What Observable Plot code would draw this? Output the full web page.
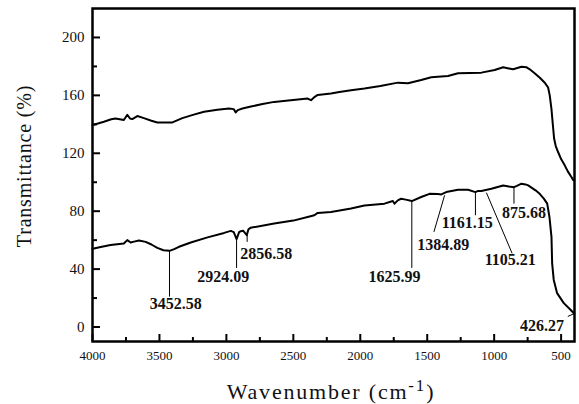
<!DOCTYPE html>
<html><head><meta charset="utf-8">
<script src="https://cdn.jsdelivr.net/npm/d3@7"></script>
<script src="https://cdn.jsdelivr.net/npm/@observablehq/plot@0.6"></script>
<style>body{margin:0;background:#fff} svg{display:block}</style>
</head><body><div id="chart"></div>
<script>
// Upper spectrum
const upperWn = [4000,3990,3915,3860,3828,3766,3740,3720,3703,3665,3616,3560,3516,3403,3329,3250,3167,3067,2980,2945,2930,2915,2880,2817,2730,2643,2520,2393,2368,2340,2318,2219,2156,2069,1969,1850,1719,1644,1545,1470,1345,1270,1180,1096,996,933,890,858,796,760,734,700,659,620,597,585,572,560,552,540,522,500,472,450,422,410,402];
const upperT = [139.5,139.7,141.8,143.5,144,143,146.6,144,143.6,145.7,144.3,142.5,141.3,141.3,144.3,146.5,148.7,150,150.9,150.5,148.2,149.8,150.9,152.3,154,155.5,156.7,157.8,156.7,159,160.3,161.3,162.4,163.5,164.7,166.5,168.8,168.4,170.6,172.5,173.4,175.3,175.5,175.7,177.5,179.4,178.6,178,179.8,179.5,178,175.5,172.2,168.5,165.4,160,150.5,138,130,125,120.7,116,111.5,107.5,103.5,101.5,101.2];

// Lower spectrum
const lowerWn = [4000,3990,3930,3865,3766,3740,3715,3690,3653,3603,3560,3516,3470,3425,3390,3354,3266,3141,3017,2967,2945,2924,2905,2892,2875,2848,2835,2820,2643,2500,2393,2343,2318,2219,2069,1969,1819,1757,1744,1720,1695,1660,1615,1545,1483,1420,1395,1358,1270,1195,1140,1120,1096,1021,933,890,852,830,796,766,746,691,660,629,604,587,572,567,555,530,480,430,402];
const lowerT = [54,54.3,55.5,56.6,57.7,60,58.4,59,59.8,58.8,57,54.7,53,52.6,53.8,55.4,58.4,61.9,65,66.4,65.5,60.7,65.5,66.2,66.5,63.4,67.5,68.5,71.5,73.5,76,77.2,78.8,79.5,81.8,84,85.2,87,85.2,87.5,88.6,88,87,89.8,92,91.8,91.6,93.2,94.8,94.8,93.2,94,93.9,95.5,97.8,97,96.6,97.5,99,98.5,97.8,94.4,92,88.7,85.2,76,62.3,44,32.5,23.4,16.5,11.9,9.3];

// Peak annotations (in wavenumber / transmittance units)
const peakLabels = ["3452.58","2924.09","2856.58","1625.99","1384.89","1161.15","1105.21","875.68","426.27"];
const peakLineWn1 = [3425,2924,2845,1615,1370,1140,1058,852,402];
const peakLineT1  = [52.6,60.5,63.8,87,91,93.5,92.8,96.6,9.3];
const peakLineWn2 = [3425,2924,2845,1615,1450,1140,866,852,450];
const peakLineT2  = [21,40.8,58.8,40.8,65.7,77.2,50.9,85.2,7.3];
const peakLabelWn = [3379,3023,2703,1745,1380,1201,880,778,643];
const peakLabelT  = [16,34.8,50.4,34.8,56.6,71.9,46.7,78.8,0.9];

// Axis ticks
const xMajor = [4000,3500,3000,2500,2000,1500,1000,500];
const xMinor = [3750,3250,2750,2250,1750,1250,750];
const yMajor = [0,40,80,120,160,200];
const yMinor = [20,60,100,140,180];

const W = 579, H = 404, mL = 92, mR = 5, mT = 8, mB = 63;
const plotW = W - mL - mR, plotH = H - mT - mB;

const upper = upperWn.map((w,i)=>({wn:w, t:upperT[i]}));
const lower = lowerWn.map((w,i)=>({wn:w, t:lowerT[i]}));
const peaks = peakLabels.map((l,i)=>({label:l, x1:peakLineWn1[i], y1:peakLineT1[i], x2:peakLineWn2[i], y2:peakLineT2[i], lx:peakLabelWn[i], ly:peakLabelT[i]}));

const font = "'Liberation Serif', 'Times New Roman', serif";

const chart = Plot.plot({
  width: W, height: H,
  marginLeft: mL, marginRight: mR, marginTop: mT, marginBottom: mB,
  style: {fontFamily: font, color: "#111", background: "#fff"},
  x: {domain: [4000, 400]},
  y: {domain: [-10, 220]},
  marks: [
    Plot.axisX({ticks: xMajor, tickSize: 0, tickPadding: 9, fontSize: 13, label: null, tickFormat: d => String(d), style: {letterSpacing: "1.5px"}}),
    Plot.axisY({ticks: yMajor, tickSize: 0, tickPadding: 8, fontSize: 15, label: null, tickFormat: d => String(d)}),
    Plot.ruleX(xMajor, {x: d=>d, stroke: "#000", strokeWidth: 2, insetTop: plotH - 7}),
    Plot.ruleX(xMinor, {x: d=>d, stroke: "#000", strokeWidth: 2, insetTop: plotH - 4}),
    Plot.ruleY(yMajor, {y: d=>d, stroke: "#000", strokeWidth: 2, insetRight: plotW - 8}),
    Plot.ruleY(yMinor, {y: d=>d, stroke: "#000", strokeWidth: 2, insetRight: plotW - 5}),
    Plot.line(upper, {x: "wn", y: "t", stroke: "#000", strokeWidth: 2}),
    Plot.line(lower, {x: "wn", y: "t", stroke: "#000", strokeWidth: 2}),
    Plot.link(peaks, {x1: "x1", y1: "y1", x2: "x2", y2: "y2", stroke: "#000", strokeWidth: 1}),
    Plot.text(peaks, {x: "lx", y: "ly", text: "label", fontSize: 16, fontWeight: "bold", fill: "#111"}),
    Plot.frame({stroke: "#000", strokeWidth: 2.5})
  ]
});
document.getElementById("chart").append(chart);

const svg = d3.select(chart);
svg.append("text")
  .attr("transform", "translate(26,166) rotate(-90)")
  .attr("text-anchor", "middle")
  .attr("dominant-baseline", "middle")
  .style("font-family", font).style("font-size", "20px").style("letter-spacing", "0.8px")
  .attr("fill", "#111")
  .text("Transmittance (%)");
const xt = svg.append("text")
  .attr("x", 331).attr("y", 399)
  .attr("text-anchor", "middle")
  .style("font-family", font).style("font-size", "22px").style("letter-spacing", "1.8px")
  .attr("fill", "#111");
xt.append("tspan").text("Wavenumber (cm");
xt.append("tspan").attr("dy", "-8").style("font-size", "17px").text("-1");
xt.append("tspan").attr("dy", "8").text(")");
</script></body></html>
